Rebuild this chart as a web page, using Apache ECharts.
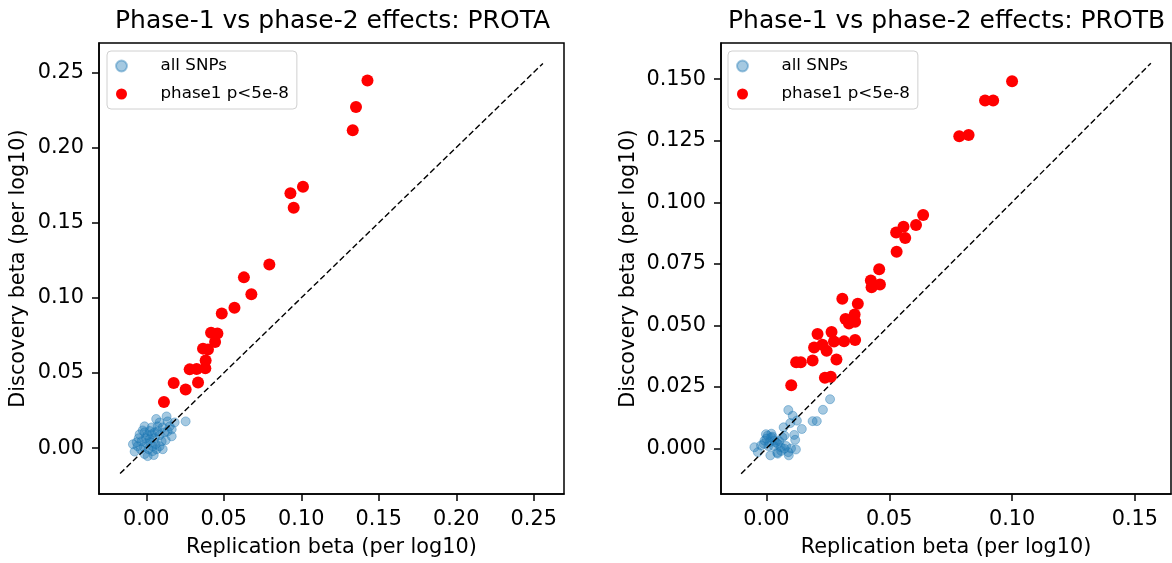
<!DOCTYPE html>
<html>
<head>
<meta charset="utf-8">
<script src="https://cdn.jsdelivr.net/npm/echarts/dist/echarts.min.js"></script>
<style>
  body { margin: 0; background: #fff; }
  #chart { width: 1172px; height: 563px; }
</style>
</head>
<body>
<div id="chart"></div>
<script>
// PROTA panel: [replication beta, discovery beta]
const protaAll = [
  [0.0064,0.0194],[0.0131,0.0211],[0.0138,0.0178],[0.0254,0.0178],[0.0164,0.0125],
  [0.0106,0.0138],[-0.0086,0.0026],[-0.0075,-0.0023],[-0.0011,-0.0039],[-0.0023,0.0118],
  [0.0022,0.0114],[0.0041,0.0013],[0.0099,0.0046],[0.0164,0.0079],[-0.0043,0.0092],
  [-0.0011,0.0105],[0.0009,0.0086],[0.0035,0.0092],[0.0054,0.0105],[0.0073,0.0112],
  [-0.0004,0.0066],[0.0022,0.0059],[0.0054,0.0066],[0.0086,0.0086],[-0.0030,0.0046],
  [0.0002,0.0033],[0.0028,0.0039],[0.0060,0.0026],[0.0086,0.0013],[-0.0056,0.0013],
  [-0.0036,-0.0007],[-0.0017,0.0007],[0.0015,-0.0007],[0.0041,-0.0020],[0.0067,-0.0007],
  [0.0106,-0.0007],[-0.0049,0.0066],[0.0119,0.0105],[0.0138,0.0112],[-0.0011,0.0145],
  [0.0035,0.0138],[0.0073,0.0145],[0.0009,-0.0053],[0.0048,-0.0046],[-0.0062,0.0039],
  [0.0125,0.0053],[0.0151,0.0145],[0.0183,0.0171],[0.0086,0.0171]
];
const protaSig = [
  [0.1427,0.2445],[0.1353,0.2270],[0.1332,0.2114],[0.1011,0.1739],[0.0930,0.1695],
  [0.0951,0.1599],[0.0794,0.1222],[0.0630,0.1136],[0.0678,0.1024],[0.0569,0.0934],
  [0.0487,0.0895],[0.0418,0.0768],[0.0459,0.0763],[0.0444,0.0706],[0.0366,0.0662],
  [0.0398,0.0656],[0.0383,0.0583],[0.0381,0.0531],[0.0280,0.0524],[0.0325,0.0526],
  [0.0177,0.0434],[0.0334,0.0436],[0.0254,0.0390],[0.0114,0.0307]
];
const protaDiag = [[-0.0169,-0.0169],[0.2559,0.2559]];
const protaRange = [-0.0305, 0.2695];
const protaTicks = [0, 0.05, 0.10, 0.15, 0.20, 0.25];

// PROTB panel
const protbAll = [
  [0.0259,0.0200],[0.0230,0.0157],[0.0089,0.0156],[0.0107,0.0133],[0.0124,0.0113],
  [0.0097,0.0103],[0.0188,0.0111],[0.0205,0.0111],[0.0070,0.0086],[0.0144,0.0079],
  [0.0113,0.0055],[0.0117,0.0035],[0.0005,0.0052],[-0.0008,0.0032],[0.0012,0.0025],
  [0.0032,0.0032],[0.0019,0.0045],[0.0046,0.0019],[0.0059,0.0005],[-0.0049,0.0005],
  [-0.0035,-0.0015],[0.0016,-0.0028],[0.0046,-0.0021],[0.0089,-0.0015],[0.0120,-0.0004],
  [0.0091,-0.0028],[0.0073,-0.0001],[-0.0011,0.0019],[-0.0022,0.0012],[0.0000,0.0040],
  [0.0025,0.0048],[0.0038,0.0025],[0.0008,0.0010],[0.0030,0.0010],[0.0052,0.0030],
  [0.0065,0.0045],[0.0080,0.0010],[0.0100,0.0000],[0.0060,-0.0010],[0.0020,0.0060],
  [-0.0002,0.0058],[0.0073,0.0052],[0.0044,-0.0017]
];
const protbSig = [
  [0.1000,0.1492],[0.0890,0.1413],[0.0923,0.1413],[0.0785,0.1268],[0.0823,0.1273],
  [0.0638,0.0948],[0.0609,0.0908],[0.0558,0.0901],[0.0528,0.0877],[0.0565,0.0855],
  [0.0530,0.0799],[0.0459,0.0728],[0.0425,0.0682],[0.0462,0.0666],[0.0428,0.0655],
  [0.0309,0.0608],[0.0372,0.0588],[0.0359,0.0544],[0.0322,0.0526],[0.0336,0.0508],
  [0.0361,0.0515],[0.0208,0.0465],[0.0265,0.0473],[0.0275,0.0434],[0.0316,0.0435],
  [0.0361,0.0441],[0.0228,0.0421],[0.0194,0.0410],[0.0245,0.0397],[0.0121,0.0350],
  [0.0140,0.0350],[0.0188,0.0357],[0.0285,0.0361],[0.0238,0.0287],[0.0262,0.0291],
  [0.0101,0.0257]
];
const protbDiag = [[-0.0103,-0.0103],[0.1565,0.1565]];
const protbRange = [-0.0185, 0.1647];
const protbXTicks = [0, 0.05, 0.10, 0.15];
const protbYTicks = [0, 0.025, 0.05, 0.075, 0.10, 0.125, 0.15];

const FONT = 'DejaVu Sans';

function makeAxis(idx, range, ticks, digits, name, gap, isY) {
  return {
    type: 'value',
    gridIndex: idx,
    min: range[0],
    max: range[1],
    name: name,
    nameLocation: 'middle',
    nameGap: gap,
    nameTextStyle: { fontFamily: FONT, fontSize: 20.8, color: '#000' },
    axisLine: { show: true, onZero: false, lineStyle: { color: '#000', width: 1.5 } },
    axisTick: { show: true, customValues: ticks, length: 7, lineStyle: { color: '#000', width: 1.5 } },
    axisLabel: {
      customValues: ticks,
      margin: 15,
      fontFamily: FONT, fontSize: 20.8, color: '#000',
      formatter: v => v.toFixed(digits)
    },
    splitLine: { show: false }
  };
}

function legendFor(left) {
  return {
    orient: 'vertical',
    left: left, top: 51,
    data: ['all SNPs', 'phase1 p<5e-8'],
    itemWidth: 26, itemHeight: 11,
    itemGap: 10,
    padding: [6, 8, 6, 8],
    borderColor: '#d0d0d0', borderWidth: 1, borderRadius: 4,
    backgroundColor: 'rgba(255,255,255,0.8)',
    textStyle: { fontFamily: FONT, fontSize: 16.7, color: '#000', padding: [0, 0, 0, 21], lineHeight: 18 },
    selectedMode: false
  };
}

function panelSeries(idx, all, sig, diag) {
  return [
    {
      name: 'all SNPs', type: 'scatter', xAxisIndex: idx, yAxisIndex: idx,
      data: all, symbolSize: 9, z: 2,
      itemStyle: { color: 'rgba(31,119,180,0.5)', borderColor: 'rgba(31,119,180,0.5)', borderWidth: 1 }
    },
    {
      type: 'line', xAxisIndex: idx, yAxisIndex: idx, data: diag,
      symbol: 'none', z: 3, silent: true,
      lineStyle: { color: '#000', width: 1.4, type: [6, 3] }
    },
    {
      name: 'phase1 p<5e-8', type: 'scatter', xAxisIndex: idx, yAxisIndex: idx,
      data: sig, symbolSize: 12, z: 4,
      itemStyle: { color: '#ff0000', opacity: 1 }
    }
  ];
}

const chart = echarts.init(document.getElementById('chart'));
chart.setOption({
  animation: false,
  backgroundColor: '#fff',
  title: [
    { text: 'Phase-1 vs phase-2 effects: PROTA', left: 115, top: 9, padding: 0,
      textStyle: { fontFamily: FONT, fontSize: 25, fontWeight: 'normal', color: '#000' } },
    { text: 'Phase-1 vs phase-2 effects: PROTB', left: 728, top: 9, padding: 0,
      textStyle: { fontFamily: FONT, fontSize: 25, fontWeight: 'normal', color: '#000' } }
  ],
  legend: [legendFor(107), legendFor(728)],
  grid: [
    { left: 99, top: 43, width: 465, height: 456, show: true, borderColor: '#000', borderWidth: 1.5 },
    { left: 721, top: 43, width: 450, height: 456, show: true, borderColor: '#000', borderWidth: 1.5 }
  ],
  xAxis: [
    makeAxis(0, protaRange, protaTicks, 2, 'Replication beta (per log10)', 43, false),
    makeAxis(1, protbRange, protbXTicks, 2, 'Replication beta (per log10)', 43, false)
  ],
  yAxis: [
    makeAxis(0, protaRange, protaTicks, 2, 'Discovery beta (per log10)', 70, true),
    makeAxis(1, protbRange, protbYTicks, 3, 'Discovery beta (per log10)', 82, true)
  ],
  series: [
    ...panelSeries(0, protaAll, protaSig, protaDiag),
    ...panelSeries(1, protbAll, protbSig, protbDiag)
  ]
});
</script>
</body>
</html>
